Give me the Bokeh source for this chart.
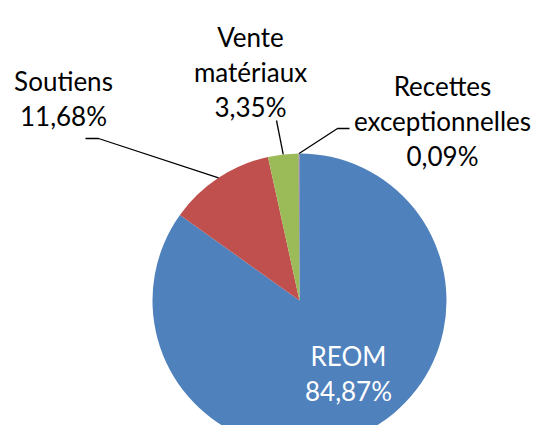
import math
from bokeh.plotting import figure
from bokeh.models import Range1d
from bokeh.embed import file_html
from bokeh.resources import INLINE
from bokeh.core.properties import value

# ---- data ----
categories = ["REOM", "Soutiens", "Vente matériaux", "Recettes exceptionnelles"]
shares = [84.87, 11.68, 3.35, 0.09]
label_lines = [["REOM"], ["Soutiens"], ["Vente", "matériaux"], ["Recettes", "exceptionnelles"]]
colors = ["#4F81BD", "#C0504D", "#9BBB59", "#8064A2"]

# ---- layout (screen pixel coords of the reference image) ----
W, H = 533, 425
CX, CY, R = 299, 300, 147
FONT = "Lato"
FSIZE = "26px"
LINE_H = 35
label_anchor = [(348, 355), (63, 80), (250, 36), (442, 85)]  # center x, first baseline y
label_color = ["white", "black", "black", "black"]
leader_elbows = [None, [(85, 138), (98, 138)], [(276, 120)], [(349, 128), (337, 128)]]


def Y(sy):
    return H - sy


p = figure(width=W, height=H,
           x_range=Range1d(0, W),
           y_range=Range1d(0, H),
           output_backend="svg", toolbar_location=None, min_border=0,
           x_axis_location=None, y_axis_location=None)
p.grid.visible = False
p.outline_line_color = None
p.background_fill_color = "white"
p.border_fill_color = "white"

total = sum(shares)
cum = 0.0
mids = []
for v, c in zip(shares, colors):
    a0 = math.pi / 2 - 2 * math.pi * cum / total
    cum += v
    a1 = math.pi / 2 - 2 * math.pi * cum / total
    p.wedge(x=CX, y=Y(CY), radius=R, start_angle=a0, end_angle=a1,
            direction="clock", fill_color=c, line_color=None)
    mids.append((a0 + a1) / 2)

# leader lines
for elbows, m in zip(leader_elbows, mids):
    if elbows is None:
        continue
    xs = [e[0] for e in elbows] + [CX + R * math.cos(m)]
    ys = [Y(e[1]) for e in elbows] + [Y(CY) + R * math.sin(m)]
    p.line(xs, ys, line_color="black", line_width=1.3)

# labels
for lines, v, (ax, ay), col in zip(label_lines, shares, label_anchor, label_color):
    pct = f"{v:.2f}".replace(".", ",") + "%"
    all_lines = lines + [pct]
    for i, t in enumerate(all_lines):
        p.text(x=[ax], y=[Y(ay + i * LINE_H)], text=[t],
               text_font=value(FONT), text_font_size=FSIZE,
               text_align="center", text_baseline="alphabetic",
               text_color=col)

open("out.html", "w").write(file_html(p, INLINE))
